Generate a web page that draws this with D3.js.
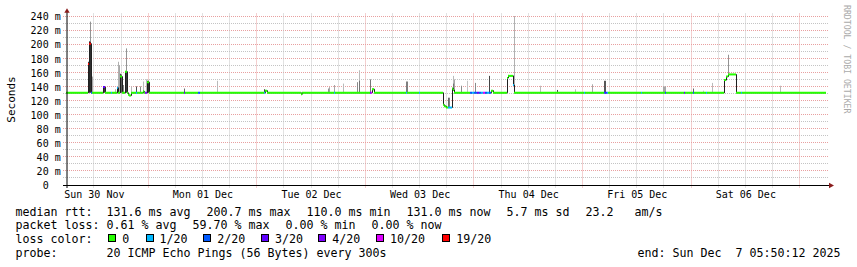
<!DOCTYPE html>
<html><head><meta charset="utf-8">
<script src="https://cdn.jsdelivr.net/npm/d3@7"></script>
<style>
html,body{margin:0;padding:0;background:#fff;}
svg{display:block;}
text{font-family:"DejaVu Sans Mono",monospace;white-space:pre;}
</style></head><body>
<svg id="c" width="857" height="267"></svg>
<script>
// ---------------- DATA ----------------
const endTime = "2025-12-07T05:50:12Z";
const spanHours = 168;
const rrdStepSeconds = 796;

const yTicks = [0,20,40,60,80,100,120,140,160,180,200,220,240];
const yTickLabels = ["0  ","20 m","40 m","60 m","80 m","100 m","120 m","140 m","160 m","180 m","200 m","220 m","240 m"];
const yMinorTicks = [10,30,50,70,90,110,130,150,170,190,210,230];

const dayTicks = ["2025-11-30T12:00:00Z","2025-12-01T12:00:00Z","2025-12-02T12:00:00Z","2025-12-03T12:00:00Z","2025-12-04T12:00:00Z","2025-12-05T12:00:00Z","2025-12-06T12:00:00Z"];
const dayLabels = ["Sun 30 Nov","Mon 01 Dec","Tue 02 Dec","Wed 03 Dec","Thu 04 Dec","Fri 05 Dec","Sat 06 Dec"];

const lossLabels = ["0","1/20","2/20","3/20","4/20","10/20","19/20"];
const lossThresholds = [0,1,2,3,4,10,19];
const lossColors = ["#26ff00","#00b8ff","#0059ff","#5e00ff","#7e00ff","#dd00ff","#ff0000"];

// median rtt (ms) change points, hours after start, packets lost of 20
const medHours = [0,4.86,5.08,5.53,5.75,8.18,8.62,9.95,10.17,11.27,11.49,11.94,12.38,13.04,13.48,13.71,13.93,14.37,15.47,15.69,17.02,17.24,17.46,17.90,18.35,
  26.08,26.30,29.18,29.62,43.77,43.99,44.43,51.95,52.17,59.24,59.46,67.20,67.42,67.64,68.08,75.16,75.38,78.03,78.25,
  83.34,83.56,84.00,84.44,85.33,85.55,85.77,89.31,89.75,90.19,90.85,91.29,91.73,92.17,92.61,93.05,93.50,93.94,94.38,
  97.48,97.70,98.81,99.03,114.50,114.72,118.93,119.15,119.37,119.59,119.81,127.10,127.32,132.40,132.62,136.60,136.82,
  138.60,138.82,141.47,141.69,145.45,145.89,146.33,148.10,149.21,149.43];
const medMs = [131,172,200.7,131,131,139,131,131,131,138,131,154,131,161,131,128,127,131,131,131,133,131,131,146,131,
  131,131,131,131,131,134,131,129,131,131,131,131,131,136,131,131,131,131,131,
  114,112,110,110,137,135,131,131,131,131,131,131,131,131,131,131,131,134,131,
  152,155,142,131,131,131,131,131,131,131,131,131,131,131,131,131,131,
  131,131,131,131,149,154,157,131,131,131];
const medLoss = [0,19,19,2,0,3,0,1,0,1,0,0,0,0,0,0,0,0,1,0,0,0,4,0,0,
  3,0,2,0,1,0,0,0,0,1,0,4,10,0,0,1,0,1,0,
  0,0,0,1,0,0,0,2,1,2,3,2,1,10,2,1,2,0,0,
  0,0,1,0,1,0,2,3,2,1,0,1,0,2,0,3,0,
  2,0,1,0,0,0,0,0,1,0];

// smoke (ping spread): hours after start, low ms, high ms, density 0..1
const smokeHours = [4.86,5.08,5.31,5.31,5.75,8.18,8.40,10.83,11.27,11.49,11.72,11.94,12.16,12.38,12.60,13.04,13.26,13.26,14.37,15.47,16.36,17.02,17.68,17.90,18.13,
  26.08,33.38,43.77,57.92,58.14,59.24,61.23,64.33,64.77,64.77,67.20,75.16,75.38,
  83.34,84.44,84.66,85.55,85.55,85.77,87.32,88.64,90.41,93.50,99.03,104.78,108.54,112.51,116.27,118.93,119.15,
  131.96,132.18,132.40,138.60,140.81,142.79,145.45,146.33,157.83];
const smokeLo = [131,131,131,204,131,131,131,131,131,131,131,131,131,131,131,131,131,162,131,131,131,131,131,131,131,
  131,131,131,131,131,131,131,131,131,131,131,131,131,
  114,110,110,137,137,135,131,131,131,131,131,131,131,131,131,131,131,
  131,131,131,131,131,131,131,157,131];
const smokeHi = [175,204,204,232,154,140,140,136,139,175,170,158,157,150,142,162,162,194,140,140,140,147,150,148,148,
  137,148,136,137,139,142,144,146,163,148,150,147,147,
  124,124,124,155,144,150,141,148,145,155,240,141,135,136,143,148,148,
  140,140,140,137,134,145,150,185,141];
const smokeDensity = [0.85,0.95,0.9,0.4,0.3,0.85,0.85,0.25,0.8,0.25,0.3,0.8,0.7,0.7,0.5,0.95,0.85,0.4,0.2,0.75,0.45,0.2,0.2,0.9,0.9,
  0.6,0.2,0.8,0.4,0.3,0.3,0.2,0.45,0.2,0.55,0.55,0.5,0.5,
  0.6,0.6,0.5,0.2,0.55,0.3,0.45,0.15,0.45,0.8,0.25,0.2,0.8,0.2,0.3,0.7,0.7,
  0.3,0.3,0.3,0.6,0.15,0.2,0.8,0.4,0.2];

const statsRtt = ["131.6 ms avg","200.7 ms max","110.0 ms min","131.0 ms now","5.7 ms sd","23.2   am/s"];
const statsLoss = ["0.61 % avg","59.70 % max","0.00 % min","0.00 % now"];
const probeText = "20 ICMP Echo Pings (56 Bytes) every 300s";
const endText = "end: Sun Dec  7 05:50:12 2025";

// ---------------- CHART ----------------
const svg = d3.select("#c");
svg.append("rect").attr("width",857).attr("height",267).attr("fill","#fff");

const end = new Date(endTime);
const start = new Date(end.getTime() - spanHours*3600e3);
const atH = h => new Date(start.getTime() + h*3600e3);

const x = d3.scaleUtc().domain([start, end]).range([66, 826]);
const y = d3.scaleLinear().domain([0, 240]).range([185, 16]);
const crisp = v => Math.floor(v) + 0.5;

const MAJ = "#e8a0a0", MIN = "#c4c4c4";
const grid = svg.append("g");
// horizontal grid
yMinorTicks.forEach(v => grid.append("line").attr("x1",63).attr("x2",828.5)
  .attr("y1",crisp(y(v))).attr("y2",crisp(y(v))).attr("stroke",MIN).attr("stroke-dasharray","1,1"));
yTicks.filter(v=>v>0).forEach(v => grid.append("line").attr("x1",63).attr("x2",828.5)
  .attr("y1",crisp(y(v))).attr("y2",crisp(y(v))).attr("stroke",MAJ).attr("stroke-dasharray","1,1"));
// vertical grid every 6 hours
d3.utcHour.every(6).range(start, end).forEach(d => {
  const xx = crisp(x(d));
  if (xx < 68) return;
  grid.append("line").attr("x1",xx).attr("x2",xx).attr("y1",13.5).attr("y2",188)
    .attr("stroke", d.getUTCHours()===0 ? MAJ : MIN).attr("stroke-dasharray","1,1");
});

// clip
svg.append("clipPath").attr("id","plot").append("rect").attr("x",66).attr("y",14).attr("width",760).attr("height",171);
const plot = svg.append("g").attr("clip-path","url(#plot)");

// smoke
const shade = d3.interpolateRgb("#e2e2e2","#1c1c1c");
const stepH = rrdStepSeconds/3600;
smokeHours.forEach((h,i) => {
  const x1 = Math.round(x(atH(h)));
  const x2 = Math.max(x1+1, Math.round(x(atH(h+stepH))));
  plot.append("rect").attr("x",x1).attr("width",x2-x1)
    .attr("y",y(smokeHi[i])).attr("height",y(smokeLo[i])-y(smokeHi[i]))
    .attr("fill",shade(smokeDensity[i]));
});

// median
const med = medHours.map((h,i)=>({t:atH(h),v:medMs[i],l:medLoss[i]}));
const medEnd = med.concat([{t:end,v:medMs[medMs.length-1],l:0}]);
const px = d => Math.round(x(d.t));
plot.append("path").datum(medEnd)
  .attr("d", d3.line().x(d=>px(d)+0.5).y(d=>y(d.v)).curve(d3.curveStepAfter))
  .attr("fill","none").attr("stroke","#202020").attr("stroke-width",1);
const lossColor = l => { let c = lossColors[0]; lossThresholds.forEach((t,k)=>{ if (l>=t) c = lossColors[k]; }); return c; };
med.forEach((d,i) => {
  const x1 = px(d), x2 = px(medEnd[i+1]);
  plot.append("line").attr("x1",x1).attr("x2",x2).attr("y1",y(d.v)).attr("y2",y(d.v))
    .attr("stroke",lossColor(d.l)).attr("stroke-width",2);
});

// axes lines
svg.append("line").attr("x1",63).attr("x2",829).attr("y1",185.5).attr("y2",185.5).attr("stroke","#000");
svg.append("line").attr("x1",67).attr("x2",67).attr("y1",188).attr("y2",12).attr("stroke","#000");
svg.append("path").attr("d","M64.3,12.8L69.7,12.8L67,8.3Z").attr("fill","#8a1c1c");
svg.append("path").attr("d","M829,182.8L829,188.2L834,185.5Z").attr("fill","#8a1c1c");

// y axis labels
const yAxis = d3.axisLeft(y).tickValues(yTicks).tickSize(0).tickPadding(0)
  .tickFormat((d,i)=>yTickLabels[i]);
svg.append("g").attr("transform","translate(60.7,0)").call(yAxis)
  .call(g=>g.select(".domain").remove())
  .call(g=>g.selectAll("text").attr("dy","3.8").attr("font-size",10)
     .attr("font-family","DejaVu Sans Mono").attr("fill","#000"));

// x axis labels
const xAxis = d3.axisBottom(x).tickValues(dayTicks.map(s=>new Date(s))).tickSize(0).tickPadding(0)
  .tickFormat((d,i)=>dayLabels[i]);
svg.append("g").attr("transform","translate(0,185)").call(xAxis)
  .call(g=>g.select(".domain").remove())
  .call(g=>g.selectAll("text").attr("dy",null).attr("y",13.3).attr("font-size",10)
     .attr("font-family","DejaVu Sans Mono").attr("fill","#000"));

// titles
svg.append("text").attr("transform","translate(15.2,99.5) rotate(-90)").attr("text-anchor","middle")
  .attr("font-size",11).attr("fill","#000").text("Seconds");
svg.append("text").attr("transform","translate(844.3,5) rotate(90)")
  .attr("font-size",8.2).attr("fill","#aaaaaa").text("RRDTOOL / TOBI OETIKER");

// legend
const FS = 11.63, CW = 7.0, GAP = 16;
const leg = svg.append("g").attr("font-size",FS).attr("fill","#000");
const row = (label, items, yb) => {
  leg.append("text").attr("x",15.5).attr("y",yb).text(label);
  let xx = 106.5;
  items.forEach(s => { leg.append("text").attr("x",xx).attr("y",yb).text(s); xx += s.length*CW + GAP; });
};
row("median rtt:", statsRtt, 215.5);
row("packet loss:", statsLoss, 229.2);
leg.append("text").attr("x",15.5).attr("y",243).text("loss color:");
const lossBoxX = [108.3,145.7,203.3,261,318.3,376,442.3];
lossLabels.forEach((s,i) => {
  const bx = Math.round(lossBoxX[i]);
  leg.append("rect").attr("x",bx+0.5).attr("y",234.5).attr("width",7).attr("height",7)
    .attr("fill",lossColors[i]).attr("stroke","#000").attr("stroke-width",1);
  leg.append("text").attr("x",lossBoxX[i]+13.9).attr("y",243).text(s);
});
leg.append("text").attr("x",15.5).attr("y",256.7).text("probe:");
leg.append("text").attr("x",106.5).attr("y",256.7).text(probeText);
leg.append("text").attr("x",637.6).attr("y",256.7).text(endText);
</script>
</body></html>
